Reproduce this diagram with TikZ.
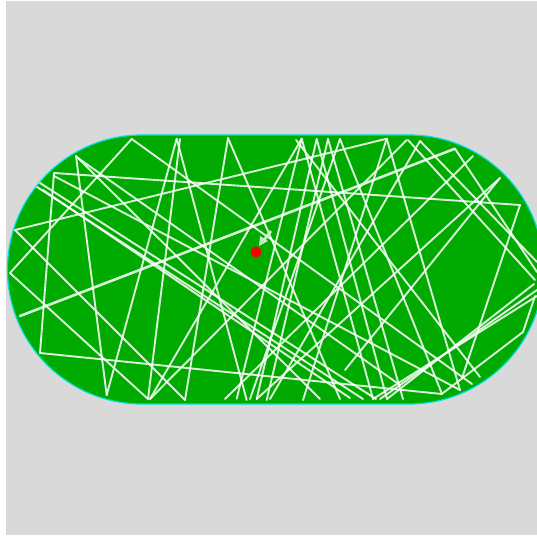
\documentclass[tikz,border=0pt]{standalone}
\begin{document}
\begin{tikzpicture}[x=1pt,y=-1pt,
  trail/.style={draw=white, draw opacity=0.85, line width=1.9pt, line cap=round, line join=round},
  thick trail/.style={trail, line width=2.6pt}]
\definecolor{bggray}{HTML}{D9D9D9}
\definecolor{stadgreen}{HTML}{00AA00}
\definecolor{stadcyan}{HTML}{00E0E0}
\definecolor{arrowpale}{HTML}{D2F2D2}
\useasboundingbox (0,0) rectangle (537,540);
\clip (0,0) rectangle (537,540);
\fill[white] (0,0) rectangle (537,540);
\fill[bggray] (6,1) rectangle (537,535);
\draw[fill=stadgreen, draw=stadcyan, line width=1.2pt, rounded corners=134.5pt] (7.5,135) rectangle (543.5,404);
% trajectory segments
\draw[thick trail] (20,316) -- (455,148.7);
\draw[trail] (15,230) -- (386.7,138.7);
\draw[trail] (15,230) -- (185,400);
\draw[trail] (10,273) -- (131.7,139);
\draw[trail] (10,273) -- (148,399);
\draw[trail] (54,173) -- (520,205);
\draw[trail] (54,173) -- (40,353);
\draw[trail] (40,353) -- (442,394);
\draw[trail] (54,176) -- (460,390);
\draw[trail] (76,156) -- (106.7,395);
\draw[trail] (76,156) -- (320,399);
\draw[trail] (78,158) -- (400,385);
\draw[trail] (37,187) -- (363,399);
\draw[trail] (40,183) -- (376,399);
\draw[trail] (43,190) -- (350,398);
\draw[trail] (131.7,139) -- (472,384);
\draw[trail] (176.7,138.7) -- (106.7,395);
\draw[trail] (180,139) -- (148,399);
\draw[trail] (176.7,138.7) -- (246.7,400);
\draw[trail] (150,399) -- (301.7,138.7);
\draw[trail] (150,399) -- (406.7,140);
\draw[trail] (228,138) -- (185,400);
\draw[trail] (228,138) -- (340,399);
\draw[trail] (301.7,138.7) -- (236.7,398.7);
\draw[trail] (316.7,139) -- (256.7,399);
\draw[trail] (316.7,139) -- (387,399);
\draw[trail] (328,139) -- (266.7,400);
\draw[trail] (386.7,138.7) -- (303,400);
\draw[trail] (301.7,138.7) -- (373,399);
\draw[trail] (296,140) -- (480,377);
\draw[trail] (328,139) -- (403,399);
\draw[trail] (340,139) -- (250,399);
\draw[trail] (340,139) -- (442,394);
\draw[trail] (473,156) -- (225,399);
\draw[trail] (420,141) -- (270,399);
\draw[trail] (256.7,399) -- (500,178);
\draw[trail] (500,178) -- (345,370);
\draw[trail] (520,205) -- (462,378);
\draw[trail] (537,290) -- (380,399);
\draw[trail] (537,296) -- (373,399);
\draw[trail] (534,284) -- (387,399);
\draw[trail] (523,332) -- (443,393);
\draw[trail] (523,332) -- (535,296);
\draw[trail] (386.7,138.7) -- (460,390);
\draw[trail] (408,140) -- (535,280);
\draw[trail] (455,148.7) -- (537,272);
\draw[trail] (420,141) -- (537,262);
% ball and velocity arrow
\draw[arrowpale, line width=3pt, opacity=0.9] (271,231) -- (264,240);
\fill[arrowpale, opacity=0.9] (259,246) -- (260,236) -- (268,241) -- cycle;
\fill[red] (256,252) circle (5.5);
\end{tikzpicture}
\end{document}
